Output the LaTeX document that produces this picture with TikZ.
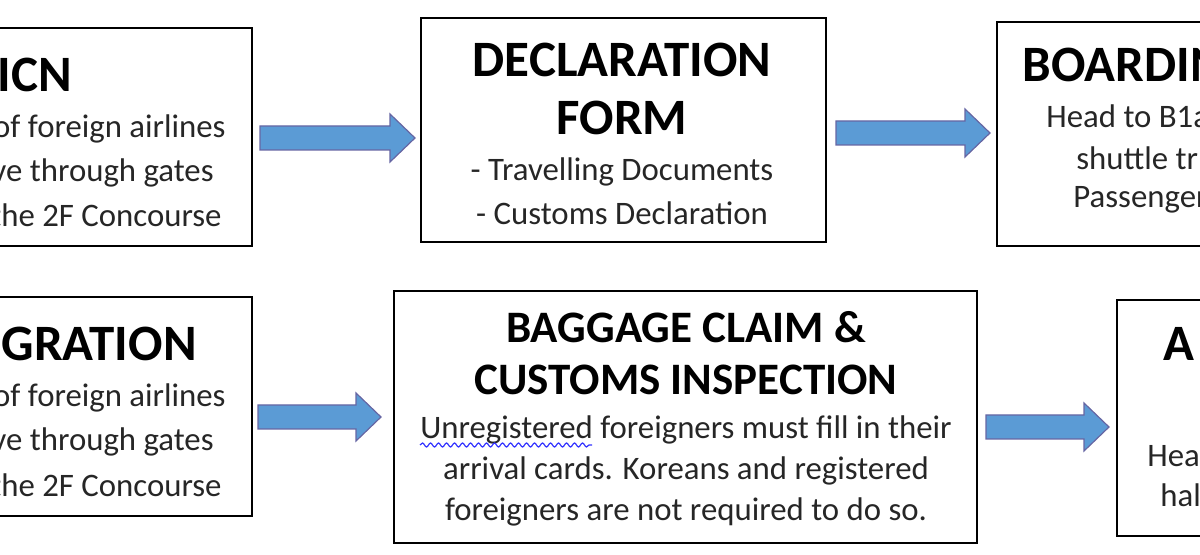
\documentclass[tikz,border=0pt]{standalone}
\usepackage{fontspec}
\setmainfont{Carlito}
\usetikzlibrary{decorations.pathmorphing}
\definecolor{arrowblue}{HTML}{5B9BD5}
\tikzset{
 box/.style={draw=black,line width=1.2pt},
 big/.style={font=\fontsize{25.5}{30}\selectfont\bfseries,inner sep=0pt},
 bigs/.style={font=\fontsize{22.5}{27}\selectfont\bfseries,inner sep=0pt},
 txt/.style={font=\fontsize{16.4}{21.5}\selectfont,inner sep=0pt,text=black!85},
 barrow/.style={draw=blue!40!black!60,line width=0.6pt,fill=arrowblue},
}
\begin{document}
\begin{tikzpicture}[x=0.5pt,y=-0.5pt]
\useasboundingbox (0,0) rectangle (1200,555);
\clip (0,0) rectangle (1200,555);
% boxes
\draw[box] (-20,28) rectangle (252,246);
\draw[box] (421,18) rectangle (826,242);
\draw[box] (997,22) rectangle (1220,246);
\draw[box] (-20,297) rectangle (252,516);
\draw[box] (394,291) rectangle (977,543);
\draw[box] (1117,300) rectangle (1220,536);
% arrows
\newcommand\blockarrow[3]{%
 \draw[barrow] (#1,#3-12) -- (#2-25,#3-12) -- (#2-25,#3-24) -- (#2,#3) -- (#2-25,#3+24) -- (#2-25,#3+12) -- (#1,#3+12) -- cycle;}
\blockarrow{260}{415}{138}
\blockarrow{836}{990}{133}
\blockarrow{258}{381}{417}
\blockarrow{986}{1109}{427}
% box 1
\node[big,anchor=east] (h1) at (72,75) {ICN};
\node[txt,anchor=east] (t1a) at (226,129) {of foreign airlines};
\node[txt,anchor=east] (t1b) at (214,173) {ve through gates};
\node[txt,anchor=east] (t1c) at (222,215) {the 2F Concourse};
% box 2
\node[big] (h2a) at (622,60) {DECLARATION};
\node[big] (h2b) at (622,118) {FORM};
\node[txt] (t2a) at (622,172) {- Travelling Documents};
\node[txt] (t2b) at (622,213) {- Customs Declaration};
% box 3
\node[big,anchor=west] (h3) at (1022,65) {BOARDING};
\node[txt,anchor=west] (t3a) at (1046,116) {Head to B1a};
\node[txt,anchor=west] (t3b) at (1076,158) {shuttle tr};
\node[txt,anchor=west] (t3c) at (1073,200) {Passenger};
% box 4
\node[big,anchor=east] (h4) at (197,344) {GRATION};
\node[txt,anchor=east] (t4a) at (226,398) {of foreign airlines};
\node[txt,anchor=east] (t4b) at (214,442) {ve through gates};
\node[txt,anchor=east] (t4c) at (222,485) {the 2F Concourse};
% box 5
\node[bigs] (h5a) at (686,327) {BAGGAGE CLAIM \&};
\node[bigs] (h5b) at (686,380) {CUSTOMS INSPECTION};
\node[txt] (t5a) at (686,430) {Unregistered foreigners must fill in their};
\node[txt] (t5b) at (686,471) {arrival cards. Koreans and registered};
\node[txt] (t5c) at (686,512) {foreigners are not required to do so.};
\draw[blue!80,line width=0.6pt,decorate,decoration={snake,amplitude=1pt,segment length=4pt}] (420,445) -- (592,445);
% box 6
\node[big,anchor=west] (h6) at (1163,344) {A};
\node[txt,anchor=west] (t6a) at (1147,455) {Head};
\node[txt,anchor=west] (t6b) at (1160,495) {hall};
\end{tikzpicture}
\end{document}
